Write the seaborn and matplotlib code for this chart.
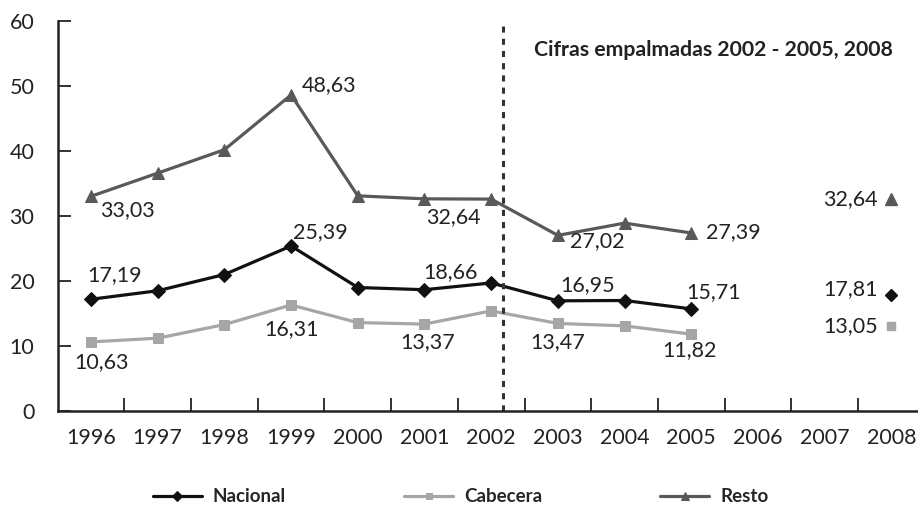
import pandas as pd
import seaborn as sns
import matplotlib.pyplot as plt

# --- data ---
years = [1996, 1997, 1998, 1999, 2000, 2001, 2002, 2003, 2004, 2005]
nacional = [17.19, 18.5, 21.0, 25.39, 19.0, 18.66, 19.7, 16.95, 17.0, 15.71]
cabecera = [10.63, 11.2, 13.3, 16.31, 13.6, 13.37, 15.4, 13.47, 13.1, 11.82]
resto = [33.03, 36.6, 40.2, 48.63, 33.1, 32.64, 32.6, 27.02, 28.9, 27.39]

year_2008 = [2008]
nacional_2008 = [17.81]
cabecera_2008 = [13.05]
resto_2008 = [32.64]

tick_years = list(range(1996, 2009))
empalme_note = "Cifras empalmadas 2002 - 2005, 2008"

# which points carry a value label, with label offset in pixels
label_offsets = {
    "Resto": {1996: (36, -14), 1999: (38, 10), 2001: (29, -18), 2003: (39, -6), 2005: (42, 1), 2008: (-41, 0)},
    "Nacional": {1996: (24, 24), 1999: (29, 14), 2001: (26, 18), 2003: (30, 16), 2005: (22, 17), 2008: (-41, 6)},
    "Cabecera": {1996: (11, -20), 1999: (0, -24), 2001: (3, -18), 2003: (0, -19), 2005: (-2, -16), 2008: (-41, 0)},
}

sns.set_style("white")
plt.rcParams['font.family'] = ['Lato', 'DejaVu Sans']

fig = plt.figure(figsize=(9.18, 5.18), dpi=100)
ax = fig.add_axes([58 / 918, 1 - 411 / 518, 860 / 918, 390 / 518])

series = [
    ("Nacional", nacional, nacional_2008, "#111111", "D", 7),
    ("Cabecera", cabecera, cabecera_2008, "#a6a6a6", "s", 7),
    ("Resto", resto, resto_2008, "#595959", "^", 9),
]

for name, vals, vals08, col, mk, ms in series:
    df = pd.DataFrame({"year": years, "valor": vals})
    sns.lineplot(data=df, x="year", y="valor", color=col, linewidth=2.3,
                 marker=mk, markersize=ms, markeredgecolor=col, label=name, ax=ax)
    df8 = pd.DataFrame({"year": year_2008, "valor": vals08})
    ax.plot(df8["year"], df8["valor"], linestyle="none", marker=mk,
            markersize=ms - 1, color=col, markeredgecolor=col)
    allx = years + year_2008
    ally = vals + vals08
    for x, y in zip(allx, ally):
        if x in label_offsets[name]:
            dx, dy = label_offsets[name][x]
            ax.annotate(f"{y:.2f}".replace(".", ","), (x, y), xytext=(dx, dy),
                        textcoords="offset pixels", ha="center", va="center",
                        fontsize=15.5, color="#222222")

# linea de empalme
ax.axvline(2002.18, color="#333333", linestyle=(0, (2, 2)), linewidth=2.2, ymax=0.995)
ax.text(2005.33, 55.5, empalme_note, ha="center", va="center",
        fontsize=15.3, fontweight="bold", color="#222222")

ax.set_xlim(1995.505, 2008.4)
ax.set_ylim(0, 60)
ax.set_xticks(tick_years)
ax.set_xticklabels([str(y) for y in tick_years])
ax.set_xticks([y + 0.5 for y in tick_years[:-1]], minor=True)
ax.set_yticks(range(0, 61, 10))
ax.tick_params(axis="x", which="major", length=0, pad=12, labelsize=15.5, labelcolor="#222222")
ax.tick_params(axis="x", which="minor", direction="in", length=9.5, width=1.3, color="#222222", bottom=True)
ax.tick_params(axis="y", which="major", direction="in", length=9.5, width=1.3, color="#222222",
               pad=17, labelsize=15.5, labelcolor="#222222", left=True)
ax.set_xlabel("")
ax.set_ylabel("")
sns.despine(ax=ax)
for s in ("left", "bottom"):
    ax.spines[s].set_linewidth(1.8)
    ax.spines[s].set_color("#222222")

handles, labels = ax.get_legend_handles_labels()
ax.get_legend().remove()
fig.legend(handles, labels, loc="center", bbox_to_anchor=(0.502, 1 - 497 / 518), ncol=3,
           frameon=False, handlelength=2.6, columnspacing=6.3, handletextpad=0.6, markerscale=0.7,
           prop={"family": ["Liberation Sans Narrow", "Lato", "DejaVu Sans"], "weight": "bold", "size": 13.5})

fig.savefig("out.png", dpi=100)
